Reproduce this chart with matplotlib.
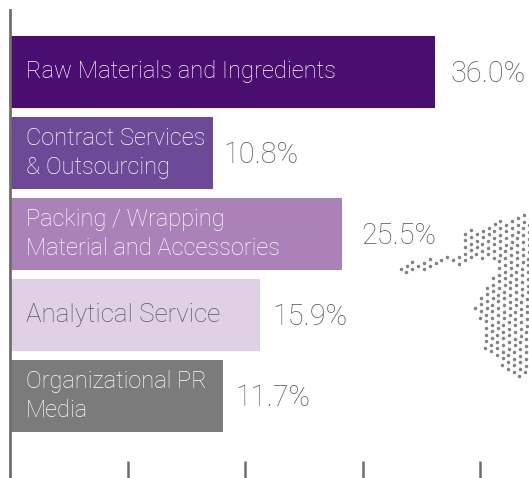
import numpy as np
import matplotlib
matplotlib.use('Agg')
import matplotlib.pyplot as plt
from matplotlib.path import Path

categories = ['Raw Materials and Ingredients', 'Contract Services\n& Outsourcing',
              'Packing / Wrapping\nMaterial and Accessories', 'Analytical Service',
              'Organizational PR\nMedia']
# drawn bar lengths (the picture's bars do not follow the printed shares)
bar_lengths = [36.15, 17.25, 28.25, 21.3, 18.1]
shares = ['36.0%', '10.8%', '25.5%', '15.9%', '11.7%']
colors = ['#4a0e71', '#6d4a97', '#ab82b8', '#e0d0e6', '#7b7b7b']
text_colors = ['#ffffff', '#ffffff', '#ffffff', '#5a5a5a', '#ffffff']
name_sizes = [17.1, 17, 17, 18.7, 17]
share_gaps = [1.4, 1.0, 1.7, 1.1, 1.1]
ticks = [10, 20, 30, 40]

# outline of the dotted map fragment, in pixels
map_outline = [(464, 228), (482, 227), (496, 221), (507, 221), (512, 215), (535, 215),
               (535, 376), (514, 376), (499, 363), (486, 355), (482, 343), (483, 334),
               (481, 325), (476, 315), (472, 304), (484, 292), (491, 282), (495, 270),
               (499, 263), (492, 259), (480, 259), (466, 265), (450, 262), (438, 262),
               (428, 271), (414, 273), (398, 273), (398, 264), (428, 259), (446, 256),
               (459, 253), (462, 245)]

W, H = 529, 478
plt.rcParams['font.family'] = ['Roboto', 'DejaVu Sans']
fig = plt.figure(figsize=(W / 100, H / 100), dpi=100)
ax = fig.add_axes([10 / W, 0, (W - 10) / W, 468 / H])
ax.set_xlim(0, (W - 10) / 11.75)
ax.set_ylim(5.01, -0.765)

ax.barh(range(5), bar_lengths, height=72 / 81, color=colors)

for i, (name, share, length) in enumerate(zip(categories, shares, bar_lengths)):
    ax.text(1.38, i, name, color=text_colors[i], fontsize=name_sizes[i], fontweight='light',
            va='center', linespacing=1.3)
    ax.text(length + share_gaps[i] - 0.05, i + 0.02, share, color='#585858', fontsize=20.8,
            fontweight='light', va='center')

for side in ['top', 'right', 'bottom']:
    ax.spines[side].set_visible(False)
ax.spines['left'].set_color('#6e6e6e')
ax.spines['left'].set_linewidth(2)
ax.set_xticks(ticks)
ax.set_xticklabels([])
ax.set_yticks([])
ax.tick_params(axis='x', direction='in', length=12, width=1.8, color='#6e6e6e')

# hexagonal dot lattice clipped to the outline
a = np.array([5.7, 3.5])
b = np.array([5.88, -3.19])
origin = np.array([465.0, 247.0])
ii, jj = np.meshgrid(np.arange(-30, 31), np.arange(-30, 31))
pts = origin + ii.ravel()[:, None] * a + jj.ravel()[:, None] * b
pts = pts[Path(map_outline).contains_points(pts)]
fig.add_artist(plt.Line2D(pts[:, 0] / W, 1 - pts[:, 1] / H, transform=fig.transFigure,
                          ls='none', marker='o', ms=2.5, mew=0, color='#808080'))

fig.savefig('out.png', dpi=100)
